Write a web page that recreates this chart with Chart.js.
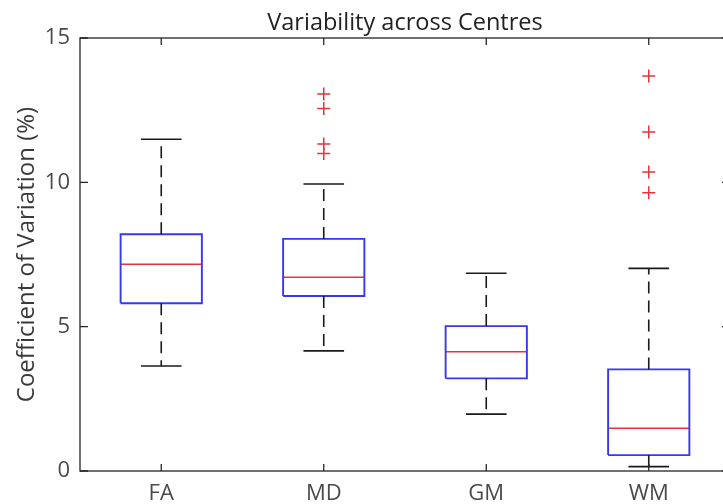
<!DOCTYPE html>
<html>
<head>
<meta charset="utf-8">
<script src="https://cdn.jsdelivr.net/npm/chart.js@4.4.1/dist/chart.umd.min.js"></script>
<style>
  html, body { margin: 0; padding: 0; background: #fff; overflow: hidden; }
  #wrap { width: 723px; height: 504px; overflow: hidden; }
</style>
</head>
<body>
<div id="wrap">
  <canvas id="cv-chart" width="810" height="504"></canvas>
</div>
<script>
const categories = ['FA', 'MD', 'GM', 'WM'];
const whiskerLow = [3.64, 4.16, 1.97, 0.15];
const q1 = [5.81, 6.06, 3.21, 0.55];
const medians = [7.16, 6.71, 4.13, 1.48];
const q3 = [8.2, 8.04, 5.02, 3.52];
const whiskerHigh = [11.49, 9.94, 6.85, 7.02];
const outliers = [
  [],
  [13.06, 12.56, 11.33, 11.0],
  [],
  [13.68, 11.74, 10.36, 9.64],
];
const yTicks = [0, 5, 10, 15];

const BOX_HALF = 0.25;
const CAP_HALF = 0.125;
const boxColor = '#3838ec';
const medColor = '#e4343c';
const whiskColor = '#1a1a1a';
const font = "'Open Sans', 'DejaVu Sans', sans-serif";

const seg = (data, color, width, dash) => ({
  data,
  showLine: true,
  borderColor: color,
  borderWidth: width,
  borderDash: dash || [],
  pointRadius: 0,
  fill: false,
  tension: 0,
});

const datasets = [];
categories.forEach((c, i) => {
  const x = i + 1;
  // whiskers first so the box sits over them
  datasets.push(seg([{ x, y: q3[i] }, { x, y: whiskerHigh[i] }], whiskColor, 1.6, [12, 7]));
  datasets.push(seg([{ x, y: q1[i] }, { x, y: whiskerLow[i] }], whiskColor, 1.6, [12, 7]));
  datasets.push(seg([{ x: x - CAP_HALF, y: whiskerHigh[i] }, { x: x + CAP_HALF, y: whiskerHigh[i] }], whiskColor, 1.6));
  datasets.push(seg([{ x: x - CAP_HALF, y: whiskerLow[i] }, { x: x + CAP_HALF, y: whiskerLow[i] }], whiskColor, 1.6));
  datasets.push(seg([
    { x: x - BOX_HALF, y: q1[i] },
    { x: x + BOX_HALF, y: q1[i] },
    { x: x + BOX_HALF, y: q3[i] },
    { x: x - BOX_HALF, y: q3[i] },
    { x: x - BOX_HALF, y: q1[i] },
  ], boxColor, 1.9));
  datasets.push(seg([{ x: x - BOX_HALF, y: medians[i] }, { x: x + BOX_HALF, y: medians[i] }], medColor, 1.5));
});

datasets.push({
  data: outliers.flatMap((arr, i) => arr.map(v => ({ x: i + 1, y: v }))),
  showLine: false,
  pointStyle: 'cross',
  pointRadius: 6.5,
  borderColor: medColor,
  borderWidth: 1.5,
  backgroundColor: medColor,
});

// matlab style frame with ticks pointing inward
const frame = {
  id: 'frame',
  afterDatasetsDraw(chart) {
    const { ctx, chartArea: a, scales } = chart;
    ctx.save();
    ctx.strokeStyle = '#262626';
    ctx.lineWidth = 1.3;
    ctx.strokeRect(a.left, a.top, a.right - a.left, a.bottom - a.top);
    ctx.beginPath();
    yTicks.forEach(v => {
      const py = scales.y.getPixelForValue(v);
      ctx.moveTo(a.left, py); ctx.lineTo(a.left + 8, py);
      ctx.moveTo(a.right, py); ctx.lineTo(a.right - 8, py);
    });
    categories.forEach((c, i) => {
      const px = scales.x.getPixelForValue(i + 1);
      ctx.moveTo(px, a.bottom); ctx.lineTo(px, a.bottom - 7);
      ctx.moveTo(px, a.top); ctx.lineTo(px, a.top + 7);
    });
    ctx.stroke();
    ctx.restore();
  },
};

new Chart(document.getElementById('cv-chart'), {
  type: 'scatter',
  data: { datasets },
  options: {
    responsive: false,
    animation: false,
    layout: { padding: { left: 0, right: 80, top: 0, bottom: 0 } },
    scales: {
      x: {
        type: 'linear',
        min: 0.5,
        max: 4.5,
        grid: { display: false, drawTicks: false },
        border: { display: false },
        afterBuildTicks: (s) => {
          s.ticks = categories.map((c, i) => ({ value: i + 1 }));
        },
        afterFit: (s) => { s.height = 33; },
        ticks: {
          padding: 10,
          color: '#4a4a4a',
          font: { family: font, size: 22 },
          callback: (v) => categories[v - 1],
        },
      },
      // top axis only carries the title so it centres over the plot area
      top: {
        type: 'linear',
        axis: 'x',
        position: 'top',
        min: 0,
        max: 1,
        grid: { display: false, drawTicks: false },
        border: { display: false },
        ticks: { display: false },
        afterFit: (s) => { s.height = 38; },
        title: {
          display: true,
          text: 'Variability across Centres',
          color: '#222222',
          font: { family: font, size: 23.5 },
          padding: { top: 9, bottom: 0 },
        },
      },
      y: {
        min: 0,
        max: 15,
        grid: { display: false, drawTicks: false },
        border: { display: false },
        afterBuildTicks: (s) => {
          s.ticks = yTicks.map(v => ({ value: v }));
        },
        afterFit: (s) => { s.width = 80; },
        ticks: {
          padding: 10,
          color: '#4a4a4a',
          font: { family: font, size: 22 },
        },
        title: {
          display: true,
          text: 'Coefficient of Variation (%)',
          color: '#3a3a3a',
          font: { family: font, size: 24 },
          padding: { top: 13, bottom: 0 },
        },
      },
    },
    plugins: {
      legend: { display: false },
      tooltip: { enabled: false },
    },
  },
  plugins: [frame],
});
</script>
</body>
</html>
